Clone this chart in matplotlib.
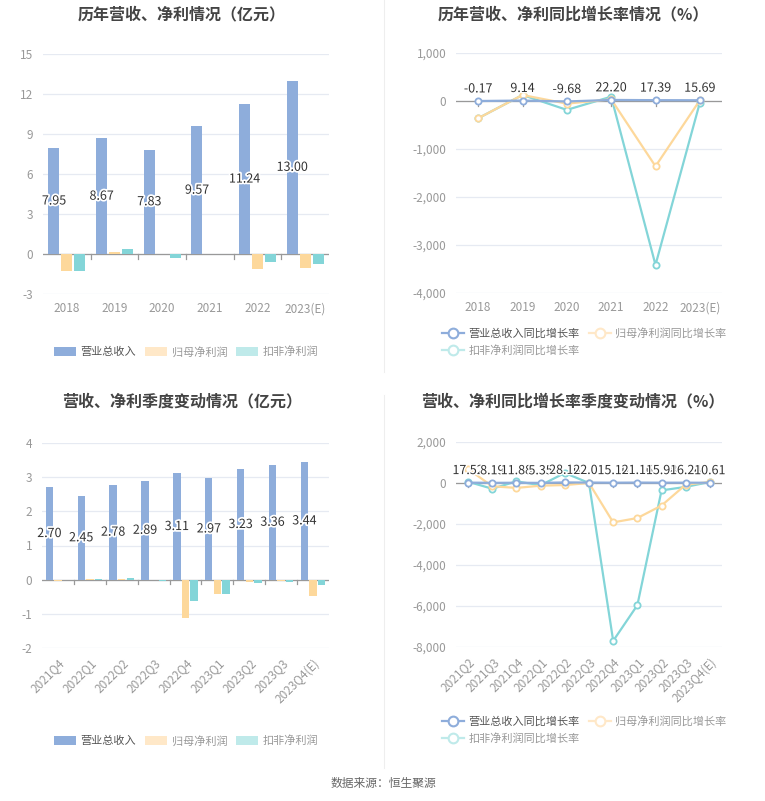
import numpy as np
import matplotlib
matplotlib.use('Agg')
import matplotlib.pyplot as plt
import matplotlib.patheffects as pe
from matplotlib.lines import Line2D
from matplotlib.patches import Patch

plt.rcParams['font.family'] = ['Noto Sans CJK SC', 'DejaVu Sans']
plt.rcParams['axes.unicode_minus'] = False

# ---------------- 数据 ----------------
years = ['2018', '2019', '2020', '2021', '2022', '2023(E)']
rev_y = [7.95, 8.67, 7.83, 9.57, 11.24, 13.00]
np_y = [-1.25, 0.12, 0.02, 0.03, -1.10, -1.03]
kf_y = [-1.30, 0.37, -0.28, -0.02, -0.62, -0.78]

rev_g_y = [-0.17, 9.14, -9.68, 22.20, 17.39, 15.69]
np_g_y = [-360, 125, -55, 35, -1360, 15]
kf_g_y = [-360, 125, -185, 90, -3415, -35]

quarters = ['2021Q4', '2022Q1', '2022Q2', '2022Q3', '2022Q4', '2023Q1', '2023Q2', '2023Q3', '2023Q4(E)']
rev_q = [2.70, 2.45, 2.78, 2.89, 3.11, 2.97, 3.23, 3.36, 3.44]
np_q = [-0.05, 0.02, 0.01, -0.02, -1.11, -0.41, -0.07, -0.04, -0.48]
kf_q = [-0.01, 0.01, 0.05, -0.04, -0.63, -0.42, -0.11, -0.06, -0.17]

quarters_g = ['2021Q2', '2021Q3', '2021Q4', '2022Q1', '2022Q2', '2022Q3', '2022Q4', '2023Q1', '2023Q2', '2023Q3', '2023Q4(E)']
rev_g_q = [17.52, 8.19, 11.88, 5.35, 28.10, 22.01, 15.10, 21.16, 15.98, 16.24, 10.61]
np_g_q = [680, -160, -240, -130, -100, 0, -1920, -1710, -1100, -80, 50]
kf_g_q = [60, -280, 80, -110, 490, 0, -7700, -5960, -360, -190, 50]

# 颜色
C_BLUE = '#8EADDB'
C_ORANGE = '#FDD89B'
C_TEAL = '#83D5D8'
C_ORANGE_L = '#FFE8C8'
C_TEAL_L = '#BFEAEA'
GRID = '#E6EAF2'
TICK = '#999999'

W, H = 765, 801
fig = plt.figure(figsize=(W / 100, H / 100), dpi=100)
fig.patch.set_facecolor('white')


def add_ax(x0, y0, x1, y1):
    return fig.add_axes([x0 / W, 1 - y1 / H, (x1 - x0) / W, (y1 - y0) / H])


def style_ax(ax, ylim, yticks, fmt):
    ax.set_ylim(*ylim)
    ax.set_yticks(yticks)
    ax.set_yticklabels([fmt(v) for v in yticks], color=TICK, fontsize=8.5)
    for s in ax.spines.values():
        s.set_visible(False)
    ax.grid(axis='y', color=GRID, linewidth=0.9)
    ax.set_axisbelow(True)
    ax.tick_params(axis='y', length=0, pad=7)
    ax.tick_params(axis='x', length=0, colors=TICK, labelsize=8.5, pad=6)
    ax.axhline(0, color='#999999', linewidth=0.9, zorder=2)


def fmt_int(v):
    return f'{int(v):,}'


def bar_panel(ax, cats, rev, npf, kf, ylim, yticks, rot):
    x = np.arange(len(cats))
    w = 0.23
    ax.bar(x - 0.27, rev, w, color=C_BLUE, zorder=3)
    ax.bar(x, npf, w, color=C_ORANGE, zorder=3)
    ax.bar(x + 0.27, kf, w, color=C_TEAL, zorder=3)
    ax.set_xlim(-0.5, len(cats) - 0.5)
    style_ax(ax, ylim, yticks, lambda v: f'{v:g}')
    ax.set_xticks(x)
    if rot:
        ax.set_xticklabels(cats, rotation=45, ha='right', rotation_mode='anchor')
    else:
        ax.set_xticklabels(cats)
    # 类目分隔小刻度
    for b in x[:-1] + 0.5:
        ax.plot([b, b], [0, -(ylim[1] - ylim[0]) * 0.02], color='#999999', lw=0.9, zorder=2)
    for xi, v in zip(x, rev):
        ax.text(xi - 0.27, v / 2, f'{v:.2f}', ha='center', va='center', fontsize=9, color='#333333',
                zorder=5, path_effects=[pe.withStroke(linewidth=2.5, foreground='white')])


def line_panel(ax, cats, rg, ng, kg, ylim, yticks, rot, lbl_size):
    x = np.arange(len(cats))
    mk = dict(marker='o', markersize=4.5, markerfacecolor='white', markeredgewidth=1.3)
    ax.plot(x, kg, color=C_TEAL, lw=1.6, zorder=3, **mk)
    ax.plot(x, ng, color=C_ORANGE, lw=1.6, zorder=3, **mk)
    ax.plot(x, rg, color=C_BLUE, lw=1.6, zorder=4, **mk)
    pad = 0.5
    ax.set_xlim(-pad, len(cats) - 1 + pad)
    style_ax(ax, ylim, yticks, fmt_int)
    ax.set_xticks(x)
    if rot:
        ax.set_xticklabels(cats, rotation=45, ha='right', rotation_mode='anchor')
    else:
        ax.set_xticklabels(cats)
    for xi in x:
        ax.plot([xi, xi], [0, -(ylim[1] - ylim[0]) * 0.02], color='#999999', lw=0.9, zorder=2)
    for xi, v in zip(x, rg):
        ax.annotate(f'{v:.2f}', (xi, v), xytext=(0, 4), textcoords='offset points', ha='center',
                    va='bottom', fontsize=lbl_size, color='#333333', zorder=6,
                    path_effects=[pe.withStroke(linewidth=2, foreground='white')])


# ---------------- 四个子图 ----------------
ax1 = add_ax(43, 54, 329, 294)
bar_panel(ax1, years, rev_y, np_y, kf_y, (-3, 15), [-3, 0, 3, 6, 9, 12, 15], False)

ax2 = add_ax(456, 53, 722, 293)
line_panel(ax2, years, rev_g_y, np_g_y, kf_g_y, (-4000, 1000),
           [-4000, -3000, -2000, -1000, 0, 1000], False, 9)

ax3 = add_ax(42, 443, 329, 648)
bar_panel(ax3, quarters, rev_q, np_q, kf_q, (-2, 4), [-2, -1, 0, 1, 2, 3, 4], True)

ax4 = add_ax(456, 442, 722, 647)
line_panel(ax4, quarters_g, rev_g_q, np_g_q, kf_g_q, (-8000, 2000),
           [-8000, -6000, -4000, -2000, 0, 2000], True, 9)

# 标题
tkw = dict(ha='center', va='center', fontsize=11.5, fontweight='bold', color='#444444')
fig.text(182 / W, 1 - 14 / H, '历年营收、净利情况（亿元）', **tkw)
fig.text(573 / W, 1 - 14 / H, '历年营收、净利同比增长率情况（%）', **tkw)
fig.text(182 / W, 1 - 401 / H, '营收、净利季度变动情况（亿元）', **tkw)
fig.text(573 / W, 1 - 401 / H, '营收、净利同比增长率季度变动情况（%）', **tkw)

# 图例
bar_handles = [Patch(facecolor=C_BLUE, edgecolor='none'),
               Patch(facecolor=C_ORANGE_L, edgecolor='none'),
               Patch(facecolor=C_TEAL_L, edgecolor='none')]
bar_labels = ['营业总收入', '归母净利润', '扣非净利润']
for yc in (352, 741):
    lg = fig.legend(bar_handles, bar_labels, loc='center', bbox_to_anchor=(186 / W, 1 - yc / H),
                    ncol=3, frameon=False, fontsize=8, handlelength=2.0, handleheight=0.9,
                    columnspacing=0.8, handletextpad=0.4)
    for t, c in zip(lg.get_texts(), ['#555555', '#999999', '#999999']):
        t.set_color(c)


def lh(c):
    return Line2D([0], [0], color=c, lw=1.6, marker='o', markersize=7,
                  markerfacecolor='white', markeredgewidth=1.5)


line_handles = [lh(C_BLUE), lh(C_TEAL_L), lh(C_ORANGE_L)]
line_labels = ['营业总收入同比增长率', '扣非净利润同比增长率', '归母净利润同比增长率']
for yc in (342, 730):
    lg = fig.legend(line_handles, line_labels, loc='center left', bbox_to_anchor=(432 / W, 1 - yc / H),
                    ncol=2, frameon=False, fontsize=8, handlelength=2.0,
                    columnspacing=0.8, handletextpad=0.4, labelspacing=0.6)
    for t, c in zip(lg.get_texts(), ['#555555', '#999999', '#999999']):
        t.set_color(c)

# 分隔线
fig.add_artist(Line2D([384 / W, 384 / W], [1 - 0 / H, 1 - 372 / H], color='#EEEEEE', lw=0.8))
fig.add_artist(Line2D([384 / W, 384 / W], [1 - 395 / H, 1 - 768 / H], color='#EEEEEE', lw=0.8))

fig.text(383 / W, 1 - 783 / H, '数据来源：恒生聚源', ha='center', va='center', fontsize=8.5, color='#666666')

fig.savefig('out.png', dpi=100, facecolor='white')
